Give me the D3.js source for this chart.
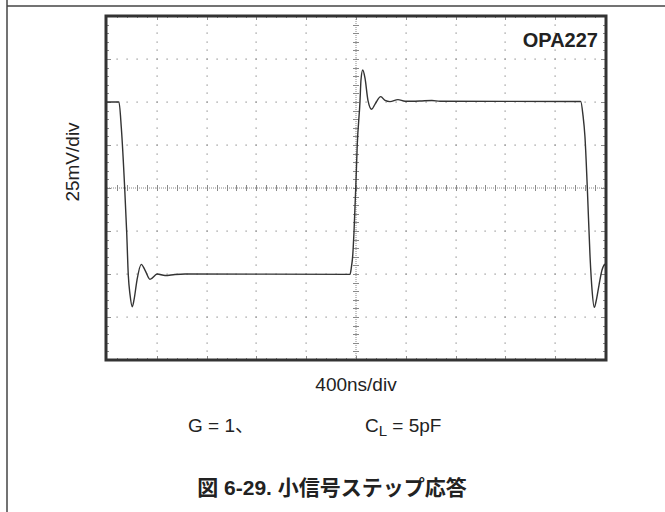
<!DOCTYPE html>
<html>
<head>
<meta charset="utf-8">
<script src="https://cdn.jsdelivr.net/npm/d3@7"></script>
<style>
  html, body { margin: 0; padding: 0; background: #fff; }
  svg { display: block; }
  text { font-family: "Liberation Sans", Arial, sans-serif; fill: #222; }
  .jp { font-family: "Liberation Sans", "Noto Sans CJK JP", sans-serif; }
</style>
</head>
<body>
<svg id="chart" width="665" height="512"></svg>
<script>
// Scope trace of the small-signal step: time in ns, amplitude in mV
const timeNs = [
  0, 96, 115, 142, 158, 171, 185, 203, 217, 241, 275, 305, 345, 404, 466, 546, 627,
  1952, 1962, 1974, 1984, 1998, 2010, 2032, 2040, 2054, 2072, 2096, 2126, 2153, 2199,
  2233, 2273, 2337, 2394, 2514, 2610, 2675, 3805,
  3823, 3839, 3858, 3880, 3896, 3914, 3928, 3952, 3976, 3992, 4000
];
const voltageMv = [
  50, 50, 35, 0, -25.4, -50.6, -62, -69, -65, -53.5, -44.4, -47.7, -53.1, -50, -50.9, -50.3, -50,
  -50.2, -46.5, -39, -25.4, 0, 25, 50.2, 62.8, 68.6, 64, 51, 45.8, 48.8, 53.1,
  50.9, 50.2, 51.4, 50.4, 50.6, 50.9, 50.4, 50.3,
  42.4, 29.8, 0, -40, -59.3, -69.4, -66, -56.4, -47.7, -44.8, -44.2
];

// Screen graticule: 10 horizontal divisions of 400 ns, 8 vertical divisions of 25 mV
const xDivisions = d3.range(0, 11).map(i => i * 400);
const yDivisions = d3.range(-4, 5).map(i => i * 25);
const minorPerDiv = 5;

const labels = {
  part: "OPA227",
  yUnit: "25mV/div",
  xUnit: "400ns/div",
  gain: "G = 1、",
  loadMain: "C",
  loadSub: "L",
  loadRest: " = 5pF",
  title: "図 6-29. 小信号ステップ応答"
};

const svg = d3.select("#chart");

const x = d3.scaleLinear().domain([0, 4000]).range([107, 605]);
const y = d3.scaleLinear().domain([-100, 100]).range([360, 16]);

// Outer page rules
svg.append("line").attr("x1", 7).attr("x2", 7).attr("y1", 0).attr("y2", 512)
  .attr("stroke", "#444").attr("stroke-width", 1.5);
svg.append("line").attr("x1", 7).attr("x2", 665).attr("y1", 6).attr("y2", 6)
  .attr("stroke", "#444").attr("stroke-width", 1.5);

const grid = svg.append("g").attr("fill", "#8a8a8a");
const xMinorStep = 400 / minorPerDiv;
const yMinorStep = 25 / minorPerDiv;
const xMinor = d3.range(0, 4000 + 1e-6, xMinorStep);
const yMinor = d3.range(-100, 100 + 1e-6, yMinorStep);

// Dotted vertical graticule lines
xDivisions.slice(1, -1).filter(t => t !== 2000).forEach(t => {
  grid.selectAll(null).data(yMinor.slice(1, -1)).join("rect")
    .attr("x", Math.round(x(t)) - 0.5).attr("y", d => Math.round(y(d)) - 0.5)
    .attr("width", 1.2).attr("height", 1.2);
});
// Dotted horizontal graticule lines
yDivisions.slice(1, -1).filter(v => v !== 0).forEach(v => {
  grid.selectAll(null).data(xMinor.slice(1, -1)).join("rect")
    .attr("x", d => Math.round(x(d)) - 0.5).attr("y", Math.round(y(v)) - 0.5)
    .attr("width", 1.2).attr("height", 1.2);
});

// Centre axes with minor cross ticks
const axes = svg.append("g").attr("stroke", "#8a8a8a").attr("stroke-width", 1);
axes.append("line").attr("x1", x(2000)).attr("x2", x(2000)).attr("y1", y(-100)).attr("y2", y(100))
  .attr("stroke-dasharray", "1,1");
axes.append("line").attr("x1", x(0)).attr("x2", x(4000)).attr("y1", y(0)).attr("y2", y(0))
  .attr("stroke-dasharray", "1,1");
axes.selectAll(null).data(yMinor.slice(1, -1)).join("line")
  .attr("x1", x(2000) - 3).attr("x2", x(2000) + 3)
  .attr("y1", d => Math.round(y(d)) + 0.5).attr("y2", d => Math.round(y(d)) + 0.5);
axes.selectAll(null).data(xMinor.slice(1, -1)).join("line")
  .attr("x1", d => Math.round(x(d)) + 0.5).attr("x2", d => Math.round(x(d)) + 0.5)
  .attr("y1", y(0) - 3).attr("y2", y(0) + 3);

// Edge ticks on the inside of the frame
const edge = svg.append("g").attr("stroke", "#8a8a8a").attr("stroke-width", 1);
xMinor.slice(1, -1).forEach((t, i) => {
  const len = (i + 1) % minorPerDiv === 0 ? 4 : 2;
  const px = Math.round(x(t)) + 0.5;
  edge.append("line").attr("x1", px).attr("x2", px).attr("y1", y(100)).attr("y2", y(100) + len);
  edge.append("line").attr("x1", px).attr("x2", px).attr("y1", y(-100)).attr("y2", y(-100) - len);
});
yMinor.slice(1, -1).forEach((v, i) => {
  const len = (i + 1) % minorPerDiv === 0 ? 4 : 2;
  const py = Math.round(y(v)) + 0.5;
  edge.append("line").attr("x1", x(0)).attr("x2", x(0) + len).attr("y1", py).attr("y2", py);
  edge.append("line").attr("x1", x(4000)).attr("x2", x(4000) - len).attr("y1", py).attr("y2", py);
});

// Trace
const trace = timeNs.map((t, i) => [t, voltageMv[i]]);
svg.append("path")
  .datum(trace)
  .attr("fill", "none")
  .attr("stroke", "#333")
  .attr("stroke-width", 1.4)
  .attr("stroke-linejoin", "round")
  .attr("d", d3.line().x(d => x(d[0])).y(d => y(d[1])).curve(d3.curveMonotoneX));

// Frame
svg.append("rect")
  .attr("x", x(0) - 1).attr("y", y(100)).attr("width", x(4000) - x(0) + 2).attr("height", y(-100) - y(100))
  .attr("fill", "none").attr("stroke", "#333").attr("stroke-width", 3);

// Labels
svg.append("text").attr("x", 598).attr("y", 47).attr("text-anchor", "end")
  .attr("font-size", 20).attr("font-weight", "bold").text(labels.part);

svg.append("text").attr("transform", "translate(79,162) rotate(-90)")
  .attr("text-anchor", "middle").attr("font-size", 19).text(labels.yUnit);

svg.append("text").attr("x", 356).attr("y", 391).attr("text-anchor", "middle")
  .attr("font-size", 19).text(labels.xUnit);

svg.append("text").attr("class", "jp").attr("x", 188).attr("y", 432)
  .attr("font-size", 19).text(labels.gain);

const load = svg.append("text").attr("x", 365).attr("y", 432).attr("font-size", 19);
load.append("tspan").text(labels.loadMain);
load.append("tspan").attr("font-size", 15).attr("dy", 4).text(labels.loadSub);
load.append("tspan").attr("dy", -4).text(labels.loadRest);

svg.append("text").attr("class", "jp").attr("x", 332).attr("y", 495).attr("text-anchor", "middle")
  .attr("font-size", 21).attr("font-weight", "bold").text(labels.title);
</script>
</body>
</html>
